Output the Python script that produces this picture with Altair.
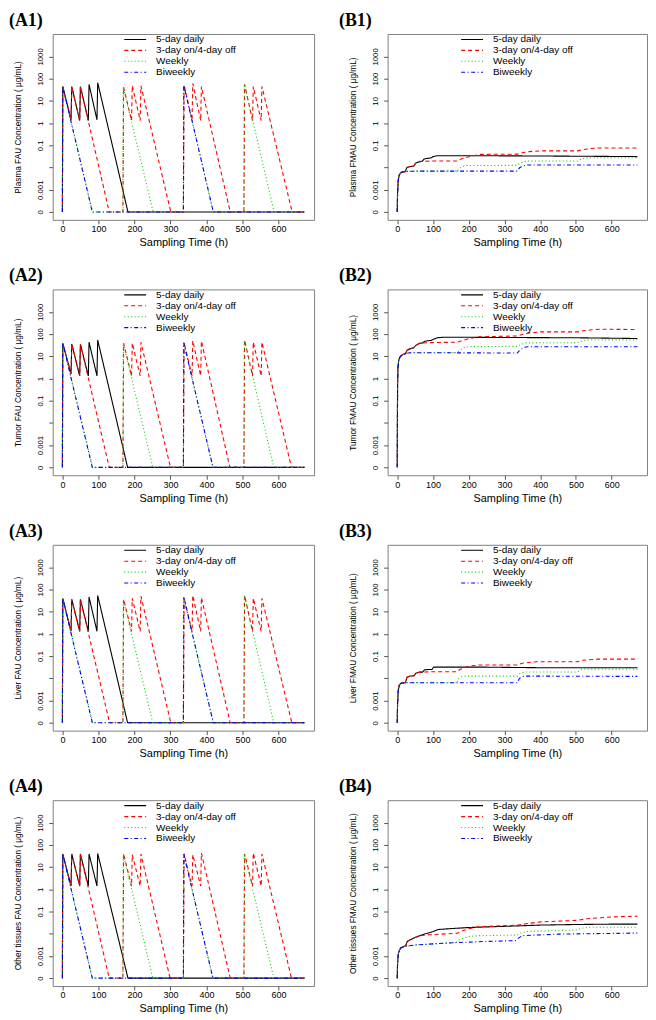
import altair as alt
import pandas as pd

REGIMENS = ["5-day daily", "3-day on/4-day off", "Weekly", "Biweekly"]
COLORS = ["#000000", "#ff0000", "#00cd00", "#0000ff"]
DASHES = [[1, 0], [4, 3], [1, 2.5], [4, 2.5, 1, 2.5]]
X_TICKS = [0, 100, 200, 300, 400, 500, 600]
Y_TICKS = [0.0001, 0.001, 0.01, 0.1, 1, 10, 100, 1000]
X_TITLE = "Sampling Time (h)"
F = 0.0001  # plotted as "0"

# ---------------- FAU (A panels) ----------------
A1_daily_t = [0, 1, 24, 26, 48, 50, 72, 74, 96, 98, 182, 672]
A1_daily_c = [F, 44, 1.4, 44, 1.3, 44, 1.3, 55, 1.4, 66, F, F]
A1_3on_t = [0, 1, 24, 26, 48, 50, 130, 168, 170, 192, 194, 216, 218, 301, 336, 338, 360, 362, 384, 386, 466, 504, 506, 528, 530, 552, 554, 638, 672]
A1_3on_c = [F, 44, 1.4, 44, 1.3, 44, F, F, 41, 1.3, 48, 1.3, 48, F, F, 51, 1.4, 61, 1.3, 44, F, F, 55, 1.3, 44, 1.3, 44, F, F]
A1_week_t = [0, 1, 84, 168, 169, 252, 336, 337, 419, 504, 505, 588, 672]
A1_week_c = [F, 44, F, F, 41, F, F, 51, F, F, 55, F, F]
A1_biw_t = [0, 1, 83, 336, 337, 419, 672]
A1_biw_c = [F, 44, F, F, 51, F, F]

A2_daily_t = [0, 1, 24, 26, 48, 50, 72, 74, 96, 98, 181, 672]
A2_daily_c = [F, 39, 1.6, 36, 1.3, 35, 1.3, 43, 1.3, 54, F, F]
A2_3on_t = [0, 1, 24, 26, 48, 50, 130, 168, 170, 192, 194, 216, 218, 300, 336, 338, 360, 362, 384, 386, 465, 504, 506, 528, 530, 552, 554, 636, 672]
A2_3on_c = [F, 39, 1.6, 36, 1.3, 35, F, F, 39, 1.3, 39, 1.3, 43, F, F, 41, 1.3, 50, 1.3, 48, F, F, 54, 1.3, 43, 1.3, 43, F, F]
A2_week_t = [0, 1, 84, 168, 169, 251, 336, 337, 418, 504, 505, 587, 672]
A2_week_c = [F, 39, F, F, 39, F, F, 41, F, F, 54, F, F]
A2_biw_t = [0, 1, 83, 336, 337, 418, 672]
A2_biw_c = [F, 39, F, F, 41, F, F]

A3_daily_t = [0, 1, 24, 26, 48, 50, 72, 74, 96, 98, 181, 672]
A3_daily_c = [F, 40, 1.3, 36, 1.3, 36, 1.3, 46, 1.3, 54, F, F]
A3_3on_t = [0, 1, 24, 26, 48, 50, 131, 168, 170, 192, 194, 216, 218, 301, 336, 338, 360, 362, 384, 386, 466, 504, 506, 528, 530, 552, 554, 637, 672]
A3_3on_c = [F, 40, 1.3, 36, 1.3, 36, F, F, 36, 1.3, 40, 1.3, 50, F, F, 43, 1.3, 54, 1.3, 43, F, F, 54, 1.3, 40, 1.3, 40, F, F]
A3_week_t = [0, 1, 84, 168, 169, 251, 336, 337, 419, 504, 505, 587, 672]
A3_week_c = [F, 40, F, F, 36, F, F, 43, F, F, 54, F, F]
A3_biw_t = [0, 1, 83, 336, 337, 419, 672]
A3_biw_c = [F, 40, F, F, 43, F, F]

A4_daily_t = [0, 1, 24, 26, 48, 50, 72, 74, 96, 98, 182, 672]
A4_daily_c = [F, 39, 1.4, 39, 1.4, 39, 1.4, 39, 1.4, 41, F, F]
A4_3on_t = [0, 1, 24, 26, 48, 50, 130, 168, 170, 192, 194, 216, 218, 299, 336, 338, 360, 362, 384, 386, 466, 504, 506, 528, 530, 552, 554, 636, 672]
A4_3on_c = [F, 39, 1.4, 39, 1.4, 39, F, F, 39, 1.4, 36, 1.4, 39, F, F, 39, 1.4, 36, 1.4, 43, F, F, 39, 1.4, 43, 1.4, 39, F, F]
A4_week_t = [0, 1, 83, 168, 169, 251, 336, 337, 418, 504, 505, 587, 672]
A4_week_c = [F, 39, F, F, 39, F, F, 39, F, F, 39, F, F]
A4_biw_t = [0, 1, 83, 336, 337, 418, 672]
A4_biw_c = [F, 39, F, F, 39, F, F]

# ---------------- FMAU (B panels) ----------------
B1_daily_t = [0, 1, 3, 6, 12, 22, 27, 35, 46, 52, 62, 70, 75, 85, 95, 100, 112, 200, 400, 672]
B1_daily_c = [F, 0.0008, 0.0028, 0.0048, 0.0062, 0.0065, 0.010, 0.011, 0.0115, 0.016, 0.018, 0.019, 0.024, 0.026, 0.027, 0.031, 0.034, 0.034, 0.033, 0.031]
B1_3on_t = [0, 1, 3, 6, 12, 22, 27, 35, 46, 52, 62, 100, 168, 175, 195, 214, 233, 336, 350, 370, 400, 504, 520, 545, 564, 672]
B1_3on_c = [F, 0.0008, 0.0028, 0.0048, 0.0062, 0.0065, 0.010, 0.011, 0.0115, 0.016, 0.019, 0.0195, 0.0195, 0.023, 0.029, 0.034, 0.039, 0.040, 0.046, 0.052, 0.056, 0.056, 0.064, 0.072, 0.076, 0.076]
B1_week_t = [0, 1, 3, 6, 12, 22, 60, 168, 175, 190, 336, 345, 362, 504, 515, 532, 672]
B1_week_c = [F, 0.0008, 0.0028, 0.0048, 0.0062, 0.0067, 0.0069, 0.0069, 0.0095, 0.0123, 0.0125, 0.016, 0.0195, 0.0195, 0.024, 0.0275, 0.0275]
B1_biw_t = [0, 1, 3, 6, 12, 22, 60, 336, 343, 360, 672]
B1_biw_c = [F, 0.0008, 0.0028, 0.0048, 0.0062, 0.0067, 0.0069, 0.0069, 0.010, 0.013, 0.013]

B2_daily_t = [0, 0.5, 1, 2, 4, 8, 15, 23, 27, 33, 46, 52, 62, 71, 77, 86, 95, 101, 112, 130, 150, 300, 500, 672]
B2_daily_c = [F, 0.01, 0.6, 3, 6.5, 9.5, 12, 13, 18, 21, 24, 31, 38, 40, 47, 50, 52, 58, 68, 72, 72, 70, 68, 63]
B2_3on_t = [0, 0.5, 1, 2, 4, 8, 15, 23, 27, 33, 46, 52, 62, 85, 168, 180, 200, 230, 336, 350, 370, 400, 504, 520, 545, 570, 672]
B2_3on_c = [F, 0.01, 0.6, 3, 6.5, 9.5, 12, 13, 18, 21, 24, 31, 38, 41, 43, 50, 62, 75, 82, 95, 112, 125, 125, 140, 155, 165, 160]
B2_week_t = [0, 0.5, 1, 2, 4, 8, 15, 23, 35, 168, 175, 188, 200, 336, 345, 360, 504, 515, 530, 672]
B2_week_c = [F, 0.01, 0.6, 3, 6.5, 9.5, 12, 13, 14.5, 14.5, 19, 25, 27, 28, 34, 40, 41, 48, 54, 55]
B2_biw_t = [0, 0.5, 1, 2, 4, 8, 15, 23, 35, 336, 342, 355, 365, 672]
B2_biw_c = [F, 0.01, 0.6, 3, 6.5, 9.5, 12, 13, 14.5, 14, 18, 25, 27, 27]

B3_daily_t = [0, 1, 3, 6, 12, 23, 27, 35, 47, 52, 62, 71, 76, 90, 97, 102, 120, 230, 400, 672]
B3_daily_c = [F, 0.0008, 0.003, 0.0052, 0.0062, 0.0064, 0.011, 0.0126, 0.013, 0.017, 0.019, 0.019, 0.024, 0.025, 0.025, 0.032, 0.032, 0.032, 0.030, 0.030]
B3_3on_t = [0, 1, 3, 6, 12, 23, 27, 35, 47, 52, 62, 100, 168, 175, 200, 230, 336, 350, 390, 504, 520, 560, 672]
B3_3on_c = [F, 0.0008, 0.003, 0.0052, 0.0062, 0.0064, 0.011, 0.0126, 0.013, 0.017, 0.019, 0.0199, 0.0199, 0.025, 0.035, 0.040, 0.040, 0.048, 0.056, 0.056, 0.065, 0.073, 0.073]
B3_week_t = [0, 1, 3, 6, 12, 23, 60, 168, 172, 185, 336, 345, 355, 504, 515, 525, 672]
B3_week_c = [F, 0.0008, 0.003, 0.0052, 0.0062, 0.0063, 0.0063, 0.0063, 0.010, 0.0126, 0.0126, 0.017, 0.0194, 0.0194, 0.025, 0.026, 0.026]
B3_biw_t = [0, 1, 3, 6, 12, 23, 60, 336, 342, 355, 672]
B3_biw_c = [F, 0.0008, 0.003, 0.0052, 0.0062, 0.0063, 0.0063, 0.0063, 0.010, 0.0126, 0.0122]

B4_daily_t = [0, 1, 3, 6, 10, 20, 24, 28, 35, 50, 60, 75, 90, 100, 115, 150, 200, 336, 400, 500, 600, 672]
B4_daily_c = [F, 0.0005, 0.0012, 0.0018, 0.0023, 0.0027, 0.0029, 0.0045, 0.0052, 0.0068, 0.0078, 0.0095, 0.011, 0.0125, 0.0155, 0.017, 0.019, 0.0225, 0.0245, 0.026, 0.027, 0.027]
B4_3on_t = [0, 1, 3, 6, 10, 20, 24, 28, 35, 50, 60, 75, 90, 168, 180, 200, 230, 336, 360, 400, 504, 530, 600, 672]
B4_3on_c = [F, 0.0005, 0.0012, 0.0018, 0.0023, 0.0027, 0.0029, 0.0045, 0.0052, 0.0068, 0.0078, 0.0085, 0.009, 0.0105, 0.013, 0.017, 0.021, 0.024, 0.028, 0.034, 0.040, 0.047, 0.057, 0.062]
B4_week_t = [0, 1, 3, 6, 10, 20, 50, 100, 165, 175, 200, 230, 336, 345, 360, 504, 520, 540, 672]
B4_week_c = [F, 0.0005, 0.0012, 0.0018, 0.0023, 0.0027, 0.0031, 0.0035, 0.004, 0.0055, 0.0075, 0.0082, 0.0087, 0.0105, 0.0126, 0.0148, 0.018, 0.0195, 0.0195]
B4_biw_t = [0, 1, 3, 6, 10, 20, 50, 100, 165, 250, 330, 340, 350, 450, 672]
B4_biw_c = [F, 0.0005, 0.0012, 0.0018, 0.0023, 0.0027, 0.0031, 0.0035, 0.004, 0.0045, 0.0049, 0.0065, 0.0082, 0.0096, 0.0107]

SANS = "Liberation Sans, Arial, sans-serif"
SERIF = "Liberation Serif, Times New Roman, serif"

Y_LABEL_EXPR = ("datum.value < 0.0005 ? '0' : (datum.value > 0.005 && datum.value < 0.05) ? '' : "
                "format(datum.value, '~g')")


def panel(series, ytitle, label, width, height, label_dx, legend_x):
    rows = []
    for reg, (ts, cs) in zip(REGIMENS, series):
        for i, (t, c) in enumerate(zip(ts, cs)):
            rows.append({"t": t, "c": c, "reg": reg, "i": i})
    df = pd.DataFrame(rows)
    leg = dict(
        orient="none", legendX=legend_x, legendY=1, title=None,
        symbolType="stroke", symbolSize=484, symbolStrokeWidth=1.1,
        clipHeight=9, rowPadding=0, padding=0,
        labelFont=SANS, labelFontSize=10, labelOffset=9, labelColor="#000000",
    )
    return alt.Chart(df, title=alt.Title(
        label, anchor="start", frame="group", dx=label_dx, offset=4,
        font=SERIF, fontSize=18, fontWeight="bold", color="#000000",
    )).mark_line(strokeWidth=1.1).encode(
        x=alt.X("t:Q",
                scale=alt.Scale(domain=[-26.88, 698.88], nice=False, zero=False),
                axis=alt.Axis(values=X_TICKS, title=X_TITLE, format="d")),
        y=alt.Y("c:Q",
                scale=alt.Scale(type="log", domain=[10 ** -4.355, 10 ** 4.01], nice=False),
                axis=alt.Axis(values=Y_TICKS, title=ytitle, labelExpr=Y_LABEL_EXPR,
                              labelAngle=270, labelFont=SANS, labelFontSize=7.8,
                              labelPadding=4, titleFont=SANS, titleFontSize=8.3,
                              titlePadding=14)),
        color=alt.Color("reg:N", scale=alt.Scale(domain=REGIMENS, range=COLORS),
                        legend=alt.Legend(**leg)),
        strokeDash=alt.StrokeDash("reg:N", scale=alt.Scale(domain=REGIMENS, range=DASHES),
                                  legend=alt.Legend(**leg)),
        order=alt.Order("i:Q"),
    ).properties(width=width, height=height)


A_W, B_W, H = 263, 261, 187
MU = "\u03bcg/mL"

a1 = panel([(A1_daily_t, A1_daily_c), (A1_3on_t, A1_3on_c), (A1_week_t, A1_week_c), (A1_biw_t, A1_biw_c)],
           f"Plasma FAU Concentration ( {MU})", "(A1)", A_W, H, -44, 71)
b1 = panel([(B1_daily_t, B1_daily_c), (B1_3on_t, B1_3on_c), (B1_week_t, B1_week_c), (B1_biw_t, B1_biw_c)],
           f"Plasma FMAU Concentration ( {MU})", "(B1)", B_W, H, -49, 73)
a2 = panel([(A2_daily_t, A2_daily_c), (A2_3on_t, A2_3on_c), (A2_week_t, A2_week_c), (A2_biw_t, A2_biw_c)],
           f"Tumor FAU Concentration ( {MU})", "(A2)", A_W, H, -44, 71)
b2 = panel([(B2_daily_t, B2_daily_c), (B2_3on_t, B2_3on_c), (B2_week_t, B2_week_c), (B2_biw_t, B2_biw_c)],
           f"Tumor FMAU Concentration ( {MU})", "(B2)", B_W, H, -49, 73)
a3 = panel([(A3_daily_t, A3_daily_c), (A3_3on_t, A3_3on_c), (A3_week_t, A3_week_c), (A3_biw_t, A3_biw_c)],
           f"Liver FAU Concentration ( {MU})", "(A3)", A_W, H, -44, 71)
b3 = panel([(B3_daily_t, B3_daily_c), (B3_3on_t, B3_3on_c), (B3_week_t, B3_week_c), (B3_biw_t, B3_biw_c)],
           f"Liver FMAU Concentration ( {MU})", "(B3)", B_W, H, -49, 73)
a4 = panel([(A4_daily_t, A4_daily_c), (A4_3on_t, A4_3on_c), (A4_week_t, A4_week_c), (A4_biw_t, A4_biw_c)],
           f"Other tissues FAU Concentration ( {MU})", "(A4)", A_W, H, -44, 71)
b4 = panel([(B4_daily_t, B4_daily_c), (B4_3on_t, B4_3on_c), (B4_week_t, B4_week_c), (B4_biw_t, B4_biw_c)],
           f"Other tissues FMAU Concentration ( {MU})", "(B4)", B_W, H, -49, 73)


def row(a, b):
    return alt.hconcat(a, b, spacing=23).resolve_scale(color="independent", strokeDash="independent")


chart = alt.vconcat(row(a1, b1), row(a2, b2), row(a3, b3), row(a4, b4), spacing=18).resolve_scale(
    color="independent", strokeDash="independent"
).properties(padding=0).configure_view(
    stroke="#808080", strokeWidth=1
).configure_axis(
    grid=False, domain=False, tickSize=4, tickColor="#555555", labelColor="#000000",
    titleColor="#000000", titleFontWeight="normal",
).configure_axisX(
    labelFont=SANS, labelFontSize=9, labelPadding=1, titleFont=SANS, titleFontSize=11, titlePadding=3,
)

chart.save("out.html", embed_options={"renderer": "svg", "actions": False})
